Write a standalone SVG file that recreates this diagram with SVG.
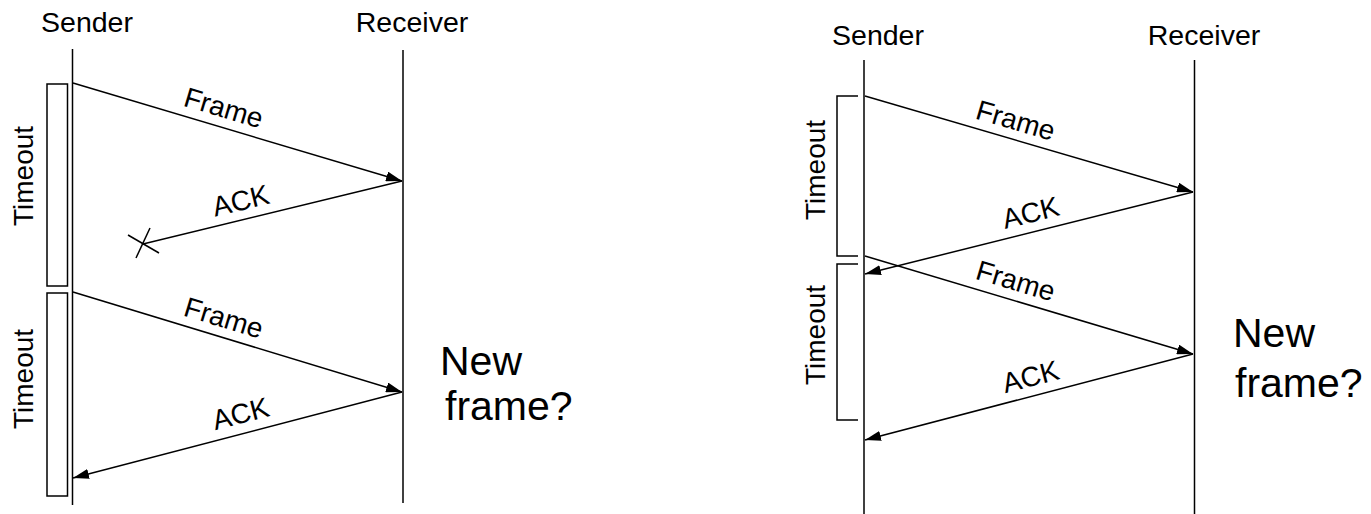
<svg xmlns="http://www.w3.org/2000/svg" width="1371" height="514" viewBox="0 0 1371 514">
  <style>
    .lbl { font-family: "Liberation Sans", Arial, sans-serif; fill: #000; }
    .head { font-size: 28.5px; text-anchor: middle; }
    .msg { font-size: 28px; text-anchor: middle; }
    .note { font-size: 41px; }
    .life { stroke: #000; stroke-width: 1.5; fill: none; }
    .arrow { stroke: #000; stroke-width: 1.5; fill: none; }
    .timer { stroke: #000; stroke-width: 1.5; fill: none; }
  </style>
  <defs>
    <marker id="tip" viewBox="0 0 16 10" refX="16" refY="5" markerWidth="16" markerHeight="10" orient="auto" markerUnits="userSpaceOnUse">
      <path d="M0,0 L16,5 L0,10 z" fill="#000"/>
    </marker>
  </defs>
  <rect width="1371" height="514" fill="#fff"/>

  <!-- Left scenario: lost ACK, retransmission -->
  <g id="left-sender">
    <text class="lbl head" x="87" y="32">Sender</text>
    <line class="life" x1="72.5" y1="49" x2="72.5" y2="505"/>
  </g>
  <g id="left-receiver">
    <text class="lbl head" x="412" y="32">Receiver</text>
    <line class="life" x1="403" y1="50" x2="403" y2="503"/>
  </g>
  <g id="left-timeout-1">
    <rect class="timer" x="47" y="84" width="20.5" height="202"/>
    <text class="lbl msg" transform="translate(33,176) rotate(-90)">Timeout</text>
  </g>
  <g id="left-timeout-2">
    <rect class="timer" x="47" y="293" width="20.5" height="203"/>
    <text class="lbl msg" transform="translate(33,379) rotate(-90)">Timeout</text>
  </g>
  <g id="left-note">
    <text class="lbl note" x="440" y="375">New</text>
    <text class="lbl note" x="445" y="420">frame?</text>
  </g>

  <!-- Right scenario: ACK arrives just after timeout -->
  <g id="right-sender">
    <text class="lbl head" x="878" y="45">Sender</text>
    <line class="life" x1="864" y1="60" x2="864" y2="514"/>
  </g>
  <g id="right-receiver">
    <text class="lbl head" x="1204" y="45">Receiver</text>
    <line class="life" x1="1194.5" y1="60" x2="1194.5" y2="514"/>
  </g>
  <g id="right-timeout-1">
    <path class="timer" d="M858,96 H837 V256 H858"/>
    <text class="lbl msg" transform="translate(825,170) rotate(-90)">Timeout</text>
  </g>
  <g id="right-timeout-2">
    <path class="timer" d="M858,264 H837 V420 H858"/>
    <text class="lbl msg" transform="translate(825,335) rotate(-90)">Timeout</text>
  </g>
  <g id="right-note">
    <text class="lbl note" x="1233" y="347">New</text>
    <text class="lbl note" x="1235" y="397">frame?</text>
  </g>

  <!-- Messages -->
  <g id="connectors">
    <line class="arrow" x1="73" y1="83" x2="402" y2="181" marker-end="url(#tip)"/>
    <line class="arrow" x1="402" y1="181" x2="143" y2="244"/>
    <line class="arrow" x1="128" y1="235" x2="159" y2="253"/>
    <line class="arrow" x1="150" y1="228" x2="136" y2="258"/>
    <line class="arrow" x1="73" y1="292" x2="402" y2="392" marker-end="url(#tip)"/>
    <line class="arrow" x1="402" y1="392" x2="73" y2="478" marker-end="url(#tip)"/>

    <line class="arrow" x1="865" y1="96" x2="1193" y2="192" marker-end="url(#tip)"/>
    <line class="arrow" x1="1193" y1="192" x2="865" y2="274" marker-end="url(#tip)"/>
    <line class="arrow" x1="865" y1="256" x2="1193" y2="354" marker-end="url(#tip)"/>
    <line class="arrow" x1="1193" y1="354" x2="865" y2="440" marker-end="url(#tip)"/>

    <text class="lbl msg" transform="translate(221,117) rotate(16.6)">Frame</text>
    <text class="lbl msg" transform="translate(243,210) rotate(-13.7)">ACK</text>
    <text class="lbl msg" transform="translate(221,327) rotate(16.9)">Frame</text>
    <text class="lbl msg" transform="translate(243,423) rotate(-14.6)">ACK</text>

    <text class="lbl msg" transform="translate(1013,129.5) rotate(16.3)">Frame</text>
    <text class="lbl msg" transform="translate(1033,222) rotate(-14)">ACK</text>
    <text class="lbl msg" transform="translate(1013,290) rotate(16.6)">Frame</text>
    <text class="lbl msg" transform="translate(1033,386) rotate(-14.7)">ACK</text>
  </g>
</svg>
